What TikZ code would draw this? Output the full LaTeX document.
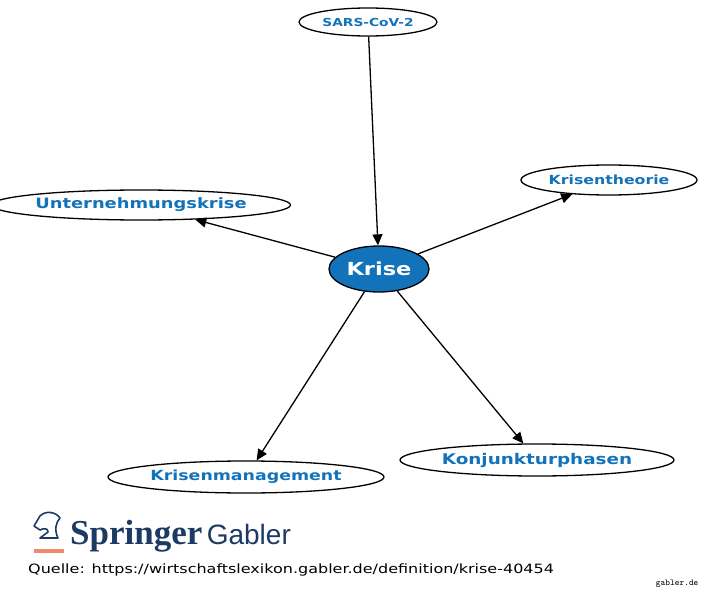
\documentclass[tikz,border=0pt]{standalone}
\usepackage{fontspec}
\setmainfont{DejaVu Sans}
\newfontfamily\widefont[FakeStretch=1.25]{DejaVu Sans}
\newfontfamily\logoserif{Liberation Serif}
\newfontfamily\logosans{Liberation Sans}
\usetikzlibrary{shapes.geometric,arrows.meta}
\definecolor{gblue}{HTML}{1272BA}
\definecolor{sdark}{HTML}{1D3A64}
\definecolor{sorange}{HTML}{F08A6A}
\begin{document}
\begin{tikzpicture}[x=1pt,y=-1pt,
    term/.style={ellipse, draw, line width=1.3pt, inner sep=0pt, text=gblue},
    link/.style={-{Triangle[length=11pt,width=10pt]}, line width=1.3pt}]
    % Rahmen
    \useasboundingbox (0,0) rectangle (707,599);
    % Begriffe
    \node[term, minimum width=138pt, minimum height=28pt, font=\widefont\bfseries\fontsize{11}{13}\selectfont] (sars) at (368,22) {SARS-CoV-2};
    \node[term, minimum width=176pt, minimum height=30pt, font=\widefont\bfseries\fontsize{12.6}{15}\selectfont] (theorie) at (609,180) {Krisentheorie};
    \node[term, minimum width=266pt, minimum height=30pt, font=\widefont\bfseries\fontsize{14.3}{17}\selectfont] (unternehmung) at (141,205) {Unternehmungskrise};
    \node[term, minimum width=100pt, minimum height=46pt, fill=gblue, text=white, font=\widefont\bfseries\fontsize{18}{21}\selectfont] (krise) at (379,269) {Krise};
    \node[term, minimum width=276pt, minimum height=32pt, font=\widefont\bfseries\fontsize{13.9}{16}\selectfont] (management) at (246,477) {Krisenmanagement};
    \node[term, minimum width=274pt, minimum height=32pt, font=\widefont\bfseries\fontsize{14.7}{17}\selectfont] (konjunktur) at (537,460) {Konjunkturphasen};

    % Verbindungen
    \draw[link] (sars) -- (krise);
    \draw[link] (krise) -- (theorie);
    \draw[link] (krise) -- (unternehmung);
    \draw[link] (krise) -- (management);
    \draw[link] (krise) -- (konjunktur);

    % Logo und Quelle
    \draw[sdark, line width=1.6pt, line join=round] (40,538) -- (58,538) .. controls (54,530) and (56,522) .. (60,518) .. controls (56,512) and (46,510) .. (40,516) -- (34,526) -- (40,530) .. controls (44,528) and (48,528) .. (48,532) -- cycle;
    \fill[sorange] (34,549) rectangle (64,553);
    \node[anchor=west, text=sdark, font=\logoserif\bfseries\fontsize{35}{38}\selectfont, inner sep=0pt] (springer) at (70,536) {Springer};
    \node[anchor=base west, text=sdark, font=\logosans\fontsize{28}{30}\selectfont, inner sep=0pt, xshift=4pt] (gabler) at (springer.base east) {Gabler};
    \node[anchor=west, font=\widefont\fontsize{12.8}{15}\selectfont, inner sep=0pt] (quelle) at (28,570) {Quelle: https://wirtschaftslexikon.gabler.de/definition/krise-40454};
    \node[anchor=east, font=\ttfamily\fontsize{9}{10}\selectfont] (site) at (702,584) {gabler.de};
\end{tikzpicture}
\end{document}
